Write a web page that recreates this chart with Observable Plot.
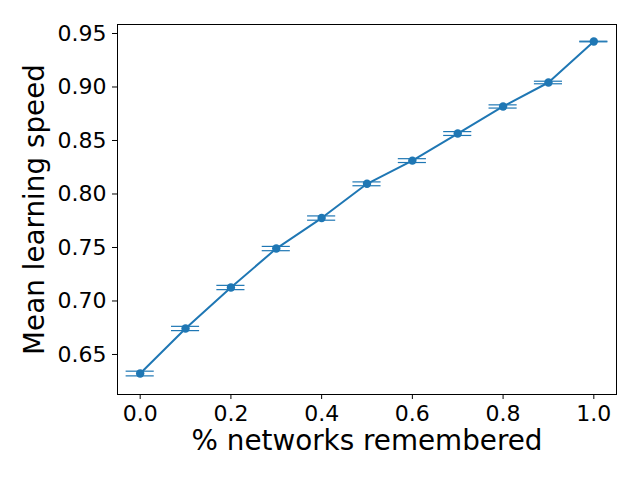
<!DOCTYPE html>
<html>
<head>
<meta charset="utf-8">
<script src="https://cdn.jsdelivr.net/npm/d3@7"></script>
<script src="https://cdn.jsdelivr.net/npm/@observablehq/plot@0.6"></script>
<style>
  html, body { margin: 0; padding: 0; background: #fff; }
  svg { display: block; }
</style>
</head>
<body>
<div id="chart"></div>
<script>
const fractions = [0.0, 0.1, 0.2, 0.3, 0.4, 0.5, 0.6, 0.7, 0.8, 0.9, 1.0];
const meanSpeed = [0.6322, 0.6743, 0.7126, 0.7490, 0.7775, 0.8095, 0.8312, 0.8565, 0.8818, 0.9042, 0.9425];
const stdErr = [0.0022, 0.0020, 0.0020, 0.0020, 0.0020, 0.0018, 0.0018, 0.0018, 0.0015, 0.0012, 0.0003];
const xTicks = [0.0, 0.2, 0.4, 0.6, 0.8, 1.0];
const yTicks = [0.65, 0.70, 0.75, 0.80, 0.85, 0.90, 0.95];
const xLabel = "% networks remembered";
const yLabel = "Mean learning speed";

const data = fractions.map((x, i) => ({x, y: meanSpeed[i], e: stdErr[i]}));
const color = "#1f77b4";
const capHalf = 0.031; // cap half-width in x units

const chart = Plot.plot({
  width: 640,
  height: 480,
  marginLeft: 117,
  marginRight: 24,
  marginTop: 24,
  marginBottom: 86,
  style: {fontFamily: "DejaVu Sans", background: "#fff", color: "#000"},
  x: {domain: [-0.05, 1.05]},
  y: {domain: [0.6126, 0.9584]},
  marks: [
    Plot.axisX({ticks: xTicks, tickFormat: d3.format(".1f"), tickSize: 5, tickPadding: 6, fontSize: 22, label: null, stroke: "#000"}),
    Plot.axisY({ticks: yTicks, tickFormat: d3.format(".2f"), tickSize: 5, tickPadding: 6, fontSize: 22, label: null, stroke: "#000"}),
    Plot.ruleX(data, {x: "x", y1: d => d.y - d.e, y2: d => d.y + d.e, stroke: color, strokeWidth: 1.2}),
    Plot.ruleY(data, {y: d => d.y + d.e, x1: d => d.x - capHalf, x2: d => d.x + capHalf, stroke: color, strokeWidth: 1.2}),
    Plot.ruleY(data, {y: d => d.y - d.e, x1: d => d.x - capHalf, x2: d => d.x + capHalf, stroke: color, strokeWidth: 1.2}),
    Plot.line(data, {x: "x", y: "y", stroke: color, strokeWidth: 2}),
    Plot.dot(data, {x: "x", y: "y", r: 4.2, fill: color, stroke: null}),
    Plot.frame({stroke: "#000", strokeWidth: 1}),
    Plot.text([xLabel], {frameAnchor: "bottom", textAnchor: "middle", lineAnchor: "middle", dy: 47, fontSize: 27.8, fill: "#000"}),
    Plot.text([yLabel], {frameAnchor: "left", textAnchor: "middle", lineAnchor: "middle", dx: -82, rotate: -90, fontSize: 27.8, fill: "#000"})
  ]
});
document.getElementById("chart").appendChild(chart);
</script>
</body>
</html>
